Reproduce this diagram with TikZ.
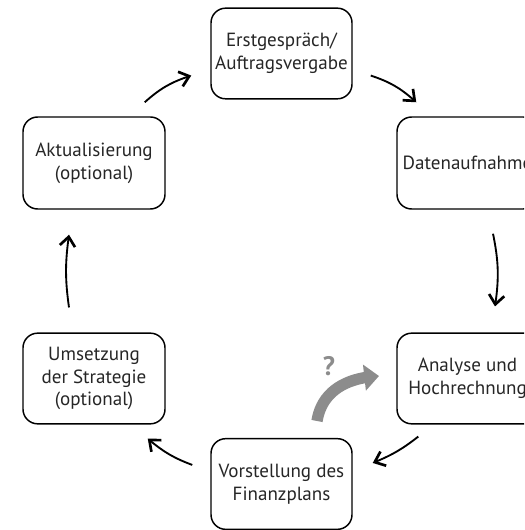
\documentclass[tikz,border=0pt]{standalone}
\usepackage{fontspec}
\setmainfont{PT Sans}
\usetikzlibrary{arrows.meta,bending,calc}

\tikzset{every picture/.style={line width=0.75pt}}
\tikzset{
  stage/.style={draw, rounded corners=11pt, line width=1.1pt, minimum width=105.75pt,
    minimum height=68pt, align=center, inner sep=2pt, text=black!85,
    font=\fontsize{14.3}{17}\selectfont},
  flow/.style={-{Straight Barb[length=7pt,width=11.5pt,line width=2pt]}, line width=1.4pt},
  hint/.style={draw=black!45, line width=8.5pt, -{Triangle[length=11pt,width=19pt]}},
}

\begin{document}
\begin{tikzpicture}[x=0.75pt,y=0.75pt,yscale=-1,xscale=1]
\clip (0,0) rectangle (524,530);

% Text Node
\node[stage] (auftrag) at (281.5,53.5) {Erstgespräch/\\Auftragsvergabe};
% Text Node
\node[stage, minimum height=69pt] (daten) at (467.5,163) {Datenaufnahme};
% Text Node
\node[stage] (analyse) at (467.5,378.5) {Analyse und\\Hochrechnung};
% Text Node
\node[stage] (vorstellung) at (281.5,484) {Vorstellung des\\Finanzplans};
% Text Node
\node[stage, minimum width=106.5pt] (umsetzung) at (94,378.5) {Umsetzung\\der Strategie\\(optional)};
% Text Node
\node[stage, minimum width=106.5pt, minimum height=69pt] (aktual) at (94,163) {Aktualisierung\\(optional)};

% Connection
\draw[flow] ($(aktual.north east)+(-21,-14)$) to[bend right=12] ($(auftrag.south west)+(-19,-24)$);
% Connection
\draw[flow] ($(auftrag.south east)+(18,-24)$) to[bend right=12] ($(daten.north west)+(20,-14)$);
% Connection
\draw[flow] ($(daten.south)+(25.5,24)$) to[bend right=10] ($(analyse.north)+(27.5,-26)$);
% Connection
\draw[flow] ($(analyse.south west)+(22,12)$) to[bend right=8] ($(vorstellung.north east)+(20,25)$);
% Connection
\draw[flow] ($(vorstellung.north west)+(-18,27)$) to[bend right=10] ($(umsetzung.south east)+(-18,14)$);
% Connection
\draw[flow] ($(umsetzung.north)+(-25,-25)$) to[bend right=8] ($(aktual.south)+(-25,25)$);

% Shape: gray hint arrow
\draw[hint] (317,421) .. controls (321,396) and (340,378) .. (379,376);
% Text Node
\node[text=black!45, font=\bfseries\fontsize{20}{20}\selectfont] (ask) at (329,366) {?};

\end{tikzpicture}
\end{document}
